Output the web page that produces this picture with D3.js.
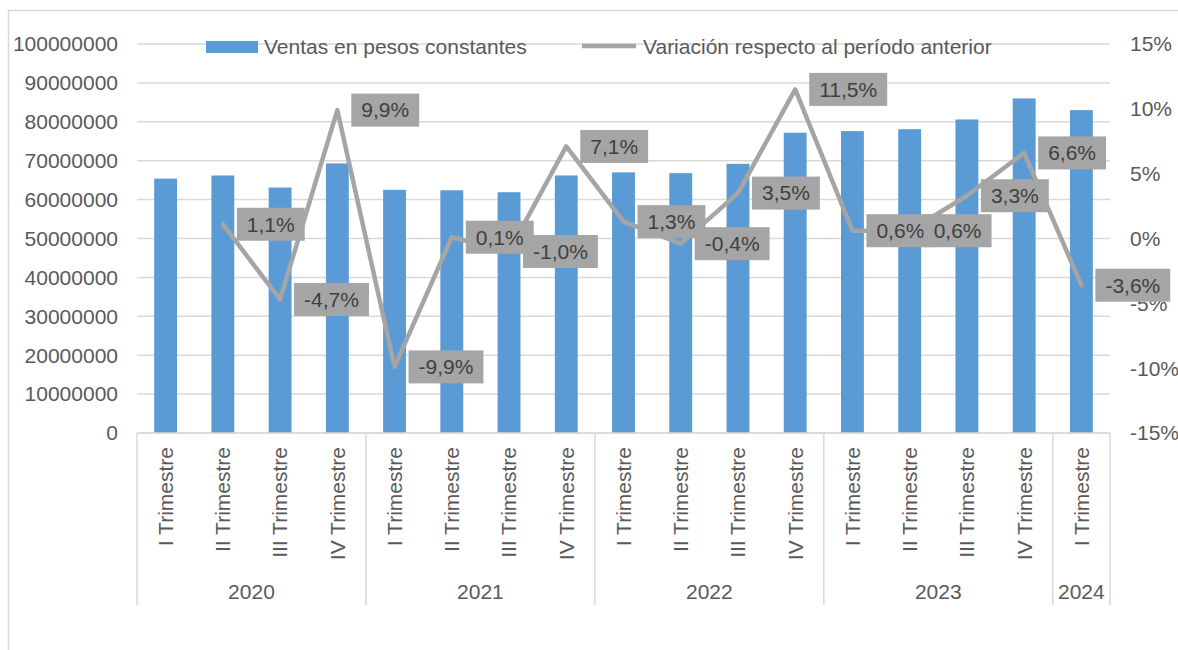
<!DOCTYPE html>
<html>
<head>
<meta charset="utf-8">
<script src="https://cdn.jsdelivr.net/npm/d3@7"></script>
<style>
  body { margin: 0; background: #fff; }
  svg text { font-family: "Liberation Sans", Arial, sans-serif; }
</style>
</head>
<body>
<div id="myViz"></div>
<script>
// データ
const quarterLabels = [
  'I Trimestre', 'II Trimestre', 'III Trimestre', 'IV Trimestre',
  'I Trimestre', 'II Trimestre', 'III Trimestre', 'IV Trimestre',
  'I Trimestre', 'II Trimestre', 'III Trimestre', 'IV Trimestre',
  'I Trimestre', 'II Trimestre', 'III Trimestre', 'IV Trimestre',
  'I Trimestre'
];
const yearLabels = ['2020', '2021', '2022', '2023', '2024'];
const yearCounts = [4, 4, 4, 4, 1];
const ventas = [
  65400000, 66200000, 63100000, 69300000,
  62500000, 62400000, 61900000, 66200000,
  67000000, 66800000, 69200000, 77200000,
  77600000, 78100000, 80600000, 86000000,
  83000000
];
const variacion = [
  null, 1.1, -4.7, 9.9,
  -9.9, 0.1, -1.0, 7.1,
  1.3, -0.4, 3.5, 11.5,
  0.6, 0.6, 3.3, 6.6,
  -3.6
];
const leftTicks = d3.range(0, 100000001, 10000000);
const rightTicks = [-15, -10, -5, 0, 5, 10, 15];
const seriesNames = ['Ventas en pesos constantes', 'Variación respecto al período anterior'];

// スタイル
const barColor = '#5b9bd5';
const lineColor = '#a5a5a5';
const gridColor = '#d9d9d9';
const textColor = '#595959';
const fontSize = 21;

const W = 1178, H = 650;
const plot = { left: 137, right: 1110, top: 44, bottom: 433 };

const svg = d3.select('#myViz').append('svg')
  .attr('width', W)
  .attr('height', H);

// 外枠
svg.append('rect')
  .attr('x', 8.5).attr('y', 10.5)
  .attr('width', W + 20).attr('height', H + 20)
  .attr('fill', 'none')
  .attr('stroke', gridColor)
  .attr('stroke-width', 1.5);

// スケール
const x = d3.scaleBand()
  .domain(d3.range(quarterLabels.length))
  .range([plot.left, plot.right])
  .paddingInner(0.6)
  .paddingOuter(0.3);
const step = x.step();
const cx = i => x(i) + x.bandwidth() / 2;

const yLeft = d3.scaleLinear().domain([0, 100000000]).range([plot.bottom, plot.top]);
const yRight = d3.scaleLinear().domain([-15, 15]).range([plot.bottom, plot.top]);

// グリッド線
svg.append('g')
  .selectAll('line')
  .data(leftTicks)
  .enter().append('line')
  .attr('x1', plot.left).attr('x2', plot.right)
  .attr('y1', d => yLeft(d)).attr('y2', d => yLeft(d))
  .attr('stroke', gridColor)
  .attr('stroke-width', 1.5);

// 左軸
svg.append('g')
  .selectAll('text')
  .data(leftTicks)
  .enter().append('text')
  .attr('x', 118)
  .attr('y', d => yLeft(d))
  .attr('dy', '0.35em')
  .attr('text-anchor', 'end')
  .attr('fill', textColor)
  .style('font-size', fontSize + 'px')
  .text(d => d3.format('d')(d));

// 右軸
svg.append('g')
  .selectAll('text')
  .data(rightTicks)
  .enter().append('text')
  .attr('x', 1130)
  .attr('y', d => yRight(d))
  .attr('dy', '0.35em')
  .attr('fill', textColor)
  .style('font-size', fontSize + 'px')
  .text(d => d + '%');

// 棒グラフ
svg.append('g')
  .selectAll('rect')
  .data(ventas)
  .enter().append('rect')
  .attr('x', (d, i) => x(i))
  .attr('y', d => yLeft(d))
  .attr('width', x.bandwidth())
  .attr('height', d => plot.bottom - yLeft(d))
  .attr('fill', barColor);

// X軸(2段)
const axisG = svg.append('g');
axisG.append('line')
  .attr('x1', plot.left).attr('x2', plot.right)
  .attr('y1', plot.bottom).attr('y2', plot.bottom)
  .attr('stroke', gridColor)
  .attr('stroke-width', 1.5);

axisG.selectAll('.q-label')
  .data(quarterLabels)
  .enter().append('text')
  .attr('class', 'q-label')
  .attr('transform', (d, i) => `translate(${cx(i)}, 447) rotate(-90)`)
  .attr('dy', '0.35em')
  .attr('text-anchor', 'end')
  .attr('fill', textColor)
  .style('font-size', fontSize + 'px')
  .text(d => d);

const bounds = [0];
yearCounts.forEach(n => bounds.push(bounds[bounds.length - 1] + n));

axisG.selectAll('.sep')
  .data(bounds)
  .enter().append('line')
  .attr('class', 'sep')
  .attr('x1', b => plot.left + b * step).attr('x2', b => plot.left + b * step)
  .attr('y1', plot.bottom).attr('y2', 605)
  .attr('stroke', gridColor)
  .attr('stroke-width', 1.5);

axisG.selectAll('.y-label')
  .data(yearLabels)
  .enter().append('text')
  .attr('class', 'y-label')
  .attr('x', (d, i) => plot.left + (bounds[i] + bounds[i + 1]) / 2 * step)
  .attr('y', 592)
  .attr('dy', '0.35em')
  .attr('text-anchor', 'middle')
  .attr('fill', textColor)
  .style('font-size', fontSize + 'px')
  .text(d => d);

// 折れ線
const linePoints = variacion.map((v, i) => ({ i, v })).filter(d => d.v !== null);
svg.append('path')
  .datum(linePoints)
  .attr('d', d3.line().x(d => cx(d.i)).y(d => yRight(d.v)))
  .attr('fill', 'none')
  .attr('stroke', lineColor)
  .attr('stroke-width', 4.5)
  .attr('stroke-linejoin', 'round')
  .attr('stroke-linecap', 'round');

// データラベル
const fmtPct = v => v.toFixed(1).replace('.', ',') + '%';
const labels = svg.append('g')
  .selectAll('g')
  .data(linePoints)
  .enter().append('g')
  .attr('transform', d => `translate(${cx(d.i) + 14}, ${yRight(d.v)})`);

labels.append('rect')
  .attr('fill', lineColor)
  .attr('y', -16.5)
  .attr('height', 33);

labels.append('text')
  .attr('x', 10)
  .attr('dy', '0.35em')
  .attr('fill', '#404040')
  .style('font-size', '21px')
  .text(d => fmtPct(d.v));

labels.each(function() {
  const g = d3.select(this);
  const tw = g.select('text').node().getComputedTextLength();
  g.select('rect').attr('width', tw + 20);
});

// 凡例
const legend = svg.append('g');
legend.append('rect')
  .attr('x', 206).attr('y', 41)
  .attr('width', 52).attr('height', 12)
  .attr('fill', barColor);
legend.append('text')
  .attr('x', 264).attr('y', 47)
  .attr('dy', '0.35em')
  .attr('fill', textColor)
  .style('font-size', fontSize + 'px')
  .text(seriesNames[0]);
legend.append('line')
  .attr('x1', 582).attr('x2', 636)
  .attr('y1', 46).attr('y2', 46)
  .attr('stroke', lineColor)
  .attr('stroke-width', 4.5);
legend.append('text')
  .attr('x', 643).attr('y', 47)
  .attr('dy', '0.35em')
  .attr('fill', textColor)
  .style('font-size', fontSize + 'px')
  .text(seriesNames[1]);
</script>
</body>
</html>
